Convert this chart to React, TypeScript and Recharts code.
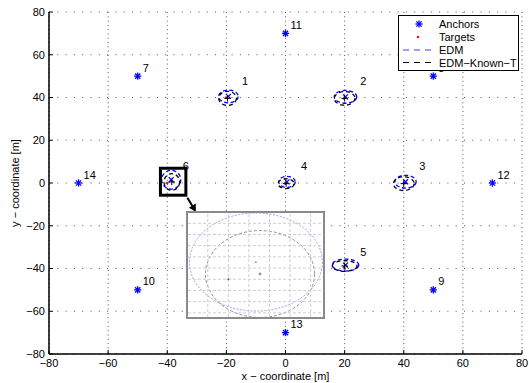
import React from 'react';
import { ScatterChart, Scatter, XAxis, YAxis, CartesianGrid, ReferenceArea, ReferenceLine } from 'recharts';

const FONT = '"Liberation Sans", Arial, Helvetica, sans-serif';

// axis ticks (metres)
const axisTicks = [-80, -60, -40, -20, 0, 20, 40, 60, 80];

// anchors
const anchorIds = ['7', '8', '9', '10', '11', '12', '13', '14'];
const anchorX = [-50, 50, 50, -50, 0, 70, 0, -70];
const anchorY = [50, 50, -50, -50, 70, 0, -70, 0];

// targets (true positions)
const targetIds = ['1', '2', '3', '4', '5', '6'];
const targetX = [-20, 20, 40, 0, 20, -40];
const targetY = [40, 40, 0, 0, -40, 0];

// EDM estimates and uncertainty ellipse radii
const edmX = [-19.3, 20.3, 40.6, 0.5, 20.3, -38.66];
const edmY = [40.5, 40.3, 0.6, 0.5, -38.4, 1.54];
const edmRx = [3.3, 3.8, 3.6, 2.8, 4.5, 3.23];
const edmRy = [3.0, 3.0, 3.0, 2.6, 2.8, 4.38];

// EDM-Known-T estimates and uncertainty ellipse radii
const knownX = [-19.6, 20.0, 40.0, 0.2, 20.0, -38.46];
const knownY = [39.6, 39.6, -0.3, -0.3, -38.8, 0.47];
const knownRx = [3.0, 3.5, 3.5, 2.7, 4.2, 2.65];
const knownRy = [3.3, 3.2, 3.2, 2.3, 2.5, 3.88];

// zoom box around target 6 and arrow to the inset
const zoomBoxX = [-42.3, -33.7];
const zoomBoxY = [-5.7, 6.9];
const arrowX = [-33.2, -30.3];
const arrowY = [-6.9, -13.4];

// inset window (zoomed view of target 6)
const insetXDomain = [-41.96, -35.4];
const insetYDomain = [-3.37, 5.92];
const insetGridX = [-41, -40, -39, -38, -37, -36];
const insetGridY = [-3, -2, -1, 0, 1, 2, 3, 4, 5];
const INSET = 5; // index of target 6

// legend
const legendLabels = ['Anchors', 'Targets', 'EDM', 'EDM\u2212Known\u2212T'];

const anchors = anchorX.map((x, i) => ({ x, y: anchorY[i], label: anchorIds[i] }));
const targets = targetX.map((x, i) => ({ x, y: targetY[i], label: targetIds[i] }));
const edmPts = edmX.map((x, i) => ({ x, y: edmY[i] }));
const knownPts = knownX.map((x, i) => ({ x, y: knownY[i] }));

const fmt = (v: number) => (v < 0 ? `\u2212${-v}` : `${v}`);

const ellipseShape = (stroke: string, dash: string, sw: number) => (p: any) => {
  const { x, y, width, height } = p;
  return (
    <ellipse
      cx={x + width / 2}
      cy={y + height / 2}
      rx={Math.abs(width) / 2}
      ry={Math.abs(height) / 2}
      fill="none"
      stroke={stroke}
      strokeDasharray={dash}
      strokeWidth={sw}
    />
  );
};

const boxShape = (p: any) => (
  <rect x={p.x} y={p.y} width={p.width} height={p.height} fill="none" stroke="#000" strokeWidth={3} />
);

const arrowShape = (p: any) => {
  const { x1, y1, x2, y2 } = p;
  const dx = x2 - x1;
  const dy = y2 - y1;
  const len = Math.sqrt(dx * dx + dy * dy) || 1;
  const ux = dx / len;
  const uy = dy / len;
  const hl = 7;
  const hw = 4;
  const bx = x2 - ux * hl;
  const by = y2 - uy * hl;
  return (
    <g>
      <line x1={x1} y1={y1} x2={bx} y2={by} stroke="#000" strokeWidth={2} />
      <polygon
        points={`${x2},${y2} ${bx - uy * hw},${by + ux * hw} ${bx + uy * hw},${by - ux * hw}`}
        fill="#000"
      />
    </g>
  );
};

const Asterisk = (p: any) => {
  const { cx, cy } = p;
  const r = 3.6;
  const d = r * 0.72;
  return (
    <g stroke="#0000ff" strokeWidth={1.3}>
      <line x1={cx - r} y1={cy} x2={cx + r} y2={cy} />
      <line x1={cx} y1={cy - r} x2={cx} y2={cy + r} />
      <line x1={cx - d} y1={cy - d} x2={cx + d} y2={cy + d} />
      <line x1={cx - d} y1={cy + d} x2={cx + d} y2={cy - d} />
    </g>
  );
};

const RedDot = (r: number) => (p: any) => <circle cx={p.cx} cy={p.cy} r={r} fill="#ff0000" />;

const Cross = (color: string, r: number, sw: number) => (p: any) => (
  <g stroke={color} strokeWidth={sw}>
    <line x1={p.cx - r} y1={p.cy - r} x2={p.cx + r} y2={p.cy + r} />
    <line x1={p.cx - r} y1={p.cy + r} x2={p.cx + r} y2={p.cy - r} />
  </g>
);

const Plus = (color: string, r: number, sw: number) => (p: any) => (
  <g stroke={color} strokeWidth={sw}>
    <line x1={p.cx - r} y1={p.cy} x2={p.cx + r} y2={p.cy} />
    <line x1={p.cx} y1={p.cy - r} x2={p.cx} y2={p.cy + r} />
  </g>
);

const LabelShape = (dx: number, dy: number) => (p: any) => (
  <text x={p.cx + dx} y={p.cy + dy} fontSize={11} fill="#000" fontFamily={FONT}>
    {p.payload.label}
  </text>
);

const tickStyle = { fontSize: 11, fill: '#000', fontFamily: FONT };
const axisLine = { stroke: '#000', strokeWidth: 1.5 };
const tickLine = { stroke: '#000', strokeWidth: 1 };
const emptyTick = () => <g />;

function Legend() {
  const rows = [9, 22, 35, 47.5];
  return (
    <svg style={{ position: 'absolute', left: 398, top: 15 }} width={122} height={57}>
      <rect x={0.5} y={0.5} width={120} height={55} fill="#fff" stroke="#000" strokeWidth={1} />
      <Asterisk cx={21} cy={rows[0]} />
      <circle cx={20} cy={rows[1]} r={1.2} fill="#ff0000" />
      <line x1={5} y1={rows[2]} x2={36} y2={rows[2]} stroke="#7f7fff" strokeWidth={1.5} strokeDasharray="6 5" />
      <line x1={5} y1={rows[3]} x2={36} y2={rows[3]} stroke="#000" strokeWidth={1.2} strokeDasharray="6 5" />
      {legendLabels.map((t, i) => (
        <text key={t} x={41} y={rows[i] + 4} fontSize={11} fill="#000" fontFamily={FONT}>
          {t}
        </text>
      ))}
    </svg>
  );
}

function Inset() {
  return (
    <div
      style={{
        position: 'absolute',
        left: 186,
        top: 211,
        width: 139,
        height: 108,
        border: '2px solid #8a8a8a',
        boxSizing: 'border-box',
        background: '#fff',
        overflow: 'hidden',
      }}
    >
      <ScatterChart width={135} height={104} margin={{ top: 0, right: 0, bottom: 0, left: 0 }}>
        <XAxis type="number" dataKey="x" domain={insetXDomain} allowDataOverflow hide />
        <YAxis type="number" dataKey="y" domain={insetYDomain} allowDataOverflow hide />
        {insetGridX.map((v) => (
          <ReferenceLine key={'gx' + v} x={v} stroke="#cfcfcf" strokeDasharray="3 2" strokeWidth={1} />
        ))}
        {insetGridY.map((v) => (
          <ReferenceLine key={'gy' + v} y={v} stroke="#cfcfcf" strokeDasharray="3 2" strokeWidth={1} />
        ))}
        <ReferenceArea
          x1={edmX[INSET] - edmRx[INSET]}
          x2={edmX[INSET] + edmRx[INSET]}
          y1={edmY[INSET] - edmRy[INSET]}
          y2={edmY[INSET] + edmRy[INSET]}
          ifOverflow="visible"
          shape={ellipseShape('#8f8fff', '2 1.5', 0.9)}
        />
        <ReferenceArea
          x1={knownX[INSET] - knownRx[INSET]}
          x2={knownX[INSET] + knownRx[INSET]}
          y1={knownY[INSET] - knownRy[INSET]}
          y2={knownY[INSET] + knownRy[INSET]}
          ifOverflow="visible"
          shape={ellipseShape('#808080', '3 2', 0.9)}
        />
        <Scatter data={[targets[INSET]]} isAnimationActive={false} shape={RedDot(0.9)} />
        <Scatter data={[edmPts[INSET]]} isAnimationActive={false} shape={(p: any) => <circle cx={p.cx} cy={p.cy} r={0.9} fill="#7f7fff" />} />
        <Scatter data={[knownPts[INSET]]} isAnimationActive={false} shape={Plus('#555', 1.5, 0.7)} />
      </ScatterChart>
    </div>
  );
}

export default function App() {
  return (
    <div style={{ position: 'absolute', left: 0, top: 0, width: 529, height: 383, background: '#fff', fontFamily: FONT }}>
      <ScatterChart width={529} height={383} margin={{ top: 12, right: 7, bottom: 0, left: 0 }} style={{ fontFamily: FONT }}>
        <CartesianGrid horizontal={false} stroke="#555" strokeDasharray="1 3.3" strokeWidth={1} />
        <CartesianGrid vertical={false} stroke="#555" strokeDasharray="1 7.3" strokeWidth={1} />
        <XAxis
          type="number"
          dataKey="x"
          domain={[-80, 80]}
          ticks={axisTicks}
          allowDataOverflow
          height={29}
          tickSize={-4}
          tickMargin={9}
          tick={tickStyle}
          tickFormatter={fmt}
          axisLine={axisLine}
          tickLine={tickLine}
          label={{
            content: (p: any) => {
              const vb = p.viewBox;
              return (
                <text x={vb.x + vb.width / 2} y={vb.y + 26} textAnchor="middle" fontSize={11} fill="#000" fontFamily={FONT}>
                  x {'\u2212'} coordinate [m]
                </text>
              );
            },
          }}
        />
        <XAxis
          xAxisId="top"
          orientation="top"
          type="number"
          domain={[-80, 80]}
          ticks={axisTicks}
          allowDataOverflow
          height={0}
          tickSize={-4}
          tick={emptyTick}
          axisLine={axisLine}
          tickLine={tickLine}
        />
        <YAxis
          type="number"
          dataKey="y"
          domain={[-80, 80]}
          ticks={axisTicks}
          allowDataOverflow
          width={49}
          tickSize={-4}
          tickMargin={8}
          tick={tickStyle}
          tickFormatter={fmt}
          axisLine={axisLine}
          tickLine={tickLine}
          label={{
            content: (p: any) => {
              const vb = p.viewBox;
              const x = vb.x + 15;
              const y = vb.y + vb.height / 2;
              return (
                <text x={x} y={y} transform={`rotate(-90 ${x} ${y})`} textAnchor="middle" dominantBaseline="central" fontSize={11} fill="#000" fontFamily={FONT}>
                  y {'\u2212'} coordinate [m]
                </text>
              );
            },
          }}
        />
        <YAxis
          yAxisId="right"
          orientation="right"
          type="number"
          domain={[-80, 80]}
          ticks={axisTicks}
          allowDataOverflow
          width={0}
          tickSize={-4}
          tick={emptyTick}
          axisLine={axisLine}
          tickLine={tickLine}
        />

        {targetX.map((_, i) => (
          <ReferenceArea
            key={'edm' + i}
            x1={edmX[i] - edmRx[i]}
            x2={edmX[i] + edmRx[i]}
            y1={edmY[i] - edmRy[i]}
            y2={edmY[i] + edmRy[i]}
            ifOverflow="visible"
            shape={ellipseShape('#0000ff', '4 2.5', 1.3)}
          />
        ))}
        {targetX.map((_, i) => (
          <ReferenceArea
            key={'kn' + i}
            x1={knownX[i] - knownRx[i]}
            x2={knownX[i] + knownRx[i]}
            y1={knownY[i] - knownRy[i]}
            y2={knownY[i] + knownRy[i]}
            ifOverflow="visible"
            shape={ellipseShape('#000', '4 3', 1.3)}
          />
        ))}

        <ReferenceArea
          x1={zoomBoxX[0]}
          x2={zoomBoxX[1]}
          y1={zoomBoxY[0]}
          y2={zoomBoxY[1]}
          ifOverflow="visible"
          shape={boxShape}
        />
        <ReferenceLine
          segment={[
            { x: arrowX[0], y: arrowY[0] },
            { x: arrowX[1], y: arrowY[1] },
          ]}
          ifOverflow="visible"
          shape={arrowShape}
        />

        <Scatter data={anchors} isAnimationActive={false} shape={Asterisk} />
        <Scatter data={targets} isAnimationActive={false} shape={RedDot(1.3)} />
        <Scatter data={edmPts} isAnimationActive={false} shape={Cross('#0000ff', 2.5, 1.2)} />
        <Scatter data={knownPts} isAnimationActive={false} shape={Plus('#000', 3.2, 1)} />
        <Scatter data={anchors} isAnimationActive={false} shape={LabelShape(5, -4.5)} />
        <Scatter data={targets} isAnimationActive={false} shape={LabelShape(15.5, -13)} />
      </ScatterChart>
      <Inset />
      <Legend />
    </div>
  );
}
